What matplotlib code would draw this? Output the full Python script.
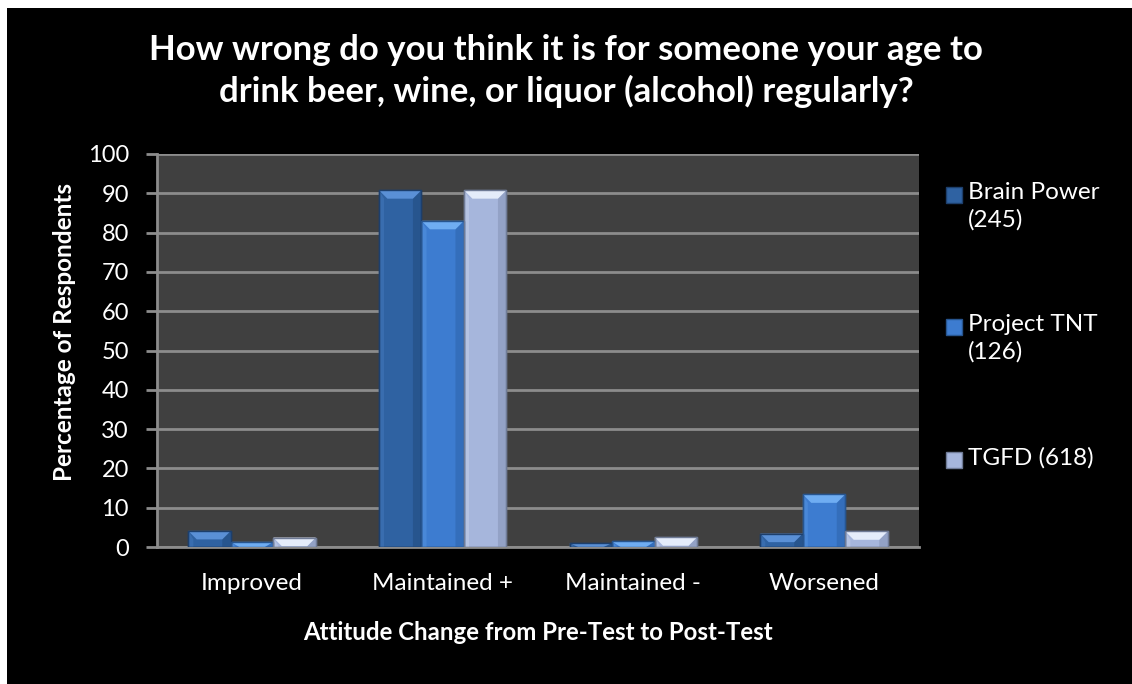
import matplotlib
matplotlib.use("Agg")
import matplotlib.pyplot as plt
from matplotlib.patches import Rectangle, Polygon
import numpy as np

categories = ["Improved", "Maintained +", "Maintained -", "Worsened"]
series_names = ["Brain Power\n(245)", "Project TNT\n(126)", "TGFD (618)"]
brain_power = [4.1, 90.8, 1.0, 3.4]
project_tnt = [1.3, 83.0, 1.4, 13.4]
tgfd = [2.4, 90.8, 2.5, 4.0]
yticks = [0, 10, 20, 30, 40, 50, 60, 70, 80, 90, 100]

title = "How wrong do you think it is for someone your age to\ndrink beer, wine, or liquor (alcohol) regularly?"
xlabel = "Attitude Change from Pre-Test to Post-Test"
ylabel = "Percentage of Respondents"

face_colors = ["#2f62a2", "#3d7cd0", "#a6b6dc"]
top_colors = ["#5a90d6", "#6fadf2", "#e4ecfa"]
side_colors = ["#234d82", "#2f66ae", "#8796b8"]
edge_colors = ["#1d3f6c", "#27558f", "#6f7b96"]

plt.rcParams['font.family'] = ['Lato', 'DejaVu Sans']

W, H = 1132, 684
fig = plt.figure(figsize=(W / 100, H / 100), dpi=100, facecolor="white")
fig.patches.append(Rectangle((7 / W, 0), 1, 1 - 8 / H, transform=fig.transFigure,
                             facecolor="black", edgecolor="none", zorder=-10))

ax = fig.add_axes([156.7 / W, 1 - 547 / H, (919.3 - 156.7) / W, (547 - 154) / H])
ax.set_facecolor("#404040")

x = np.arange(len(categories))
bw = 0.223
all_series = [brain_power, project_tnt, tgfd]

px_per_x = (919.3 - 156.7) / 4.0
px_per_y = (547 - 154) / 100.0
bev_px = 8.5

for i, vals in enumerate(all_series):
    bars = ax.bar(x + (i - 1) * bw, vals, width=bw, color=face_colors[i],
                  edgecolor=edge_colors[i], linewidth=1.0, zorder=3)
    for b in bars:
        bx, bwid, bh = b.get_x(), b.get_width(), b.get_height()
        dx = bev_px / px_per_x
        dy = min(bev_px / px_per_y, bh)
        # side shading (right side darker)
        ax.add_patch(Polygon([(bx + bwid - dx, 0), (bx + bwid, 0), (bx + bwid, bh),
                              (bx + bwid - dx, bh - dy)], closed=True,
                             facecolor=side_colors[i], edgecolor="none", zorder=3.5, alpha=0.6))
        ax.add_patch(Polygon([(bx, 0), (bx + dx * 0.6, 0), (bx + dx * 0.6, bh - dy), (bx, bh)],
                             closed=True, facecolor=top_colors[i], edgecolor="none",
                             zorder=3.5, alpha=0.25))
        # top bevel
        ax.add_patch(Polygon([(bx, bh), (bx + bwid, bh), (bx + bwid - dx, bh - dy),
                              (bx + dx, bh - dy)], closed=True,
                             facecolor=top_colors[i], edgecolor="none", zorder=4))
        ax.add_patch(Rectangle((bx, 0), bwid, bh, facecolor="none",
                               edgecolor=edge_colors[i], linewidth=1.0, zorder=5))

ax.set_xlim(-0.5, len(categories) - 0.5)
ax.set_ylim(0, 100)
ax.set_yticks(yticks)
ax.set_yticklabels([str(t) for t in yticks])
ax.set_xticks(x)
ax.set_xticklabels(categories)
ax.yaxis.grid(True, color="#8c8c8c", linewidth=2.0, zorder=1)
ax.set_axisbelow(True)
for s in ["top", "right"]:
    ax.spines[s].set_visible(False)
for s in ["left", "bottom"]:
    ax.spines[s].set_color("#8c8c8c")
    ax.spines[s].set_linewidth(2.0)
ax.tick_params(axis="y", colors="#8c8c8c", length=8, width=2.0, labelcolor="white",
               labelsize=17, pad=12)
ax.tick_params(axis="x", length=0, labelcolor="white", labelsize=17.5, pad=19)

fig.text(0.5, 1 - 71 / H, title, ha="center", va="center", color="white",
         fontsize=25, fontweight="bold", linespacing=1.3)
fig.text(538 / W, 1 - 632 / H, xlabel, ha="center", va="center", color="white",
         fontsize=17.3, fontweight="bold")
fig.text(65 / W, 1 - 332 / H, ylabel, ha="center", va="center", color="white",
         fontsize=17.5, fontweight="bold", rotation=90)

# legend
leg_y = [195, 327, 460]
for i, name in enumerate(series_names):
    yc = leg_y[i]
    fig.patches.append(Rectangle((946 / W, 1 - (yc + 8) / H), 16 / W, 16 / H,
                                 transform=fig.transFigure, facecolor=face_colors[i],
                                 edgecolor=edge_colors[i], linewidth=1.0, zorder=5))
    fig.text(968 / W, 1 - (yc - 13) / H, name, ha="left", va="top", color="white",
             fontsize=17.5, linespacing=1.35)

fig.savefig("out.png", dpi=100, facecolor=fig.get_facecolor())
